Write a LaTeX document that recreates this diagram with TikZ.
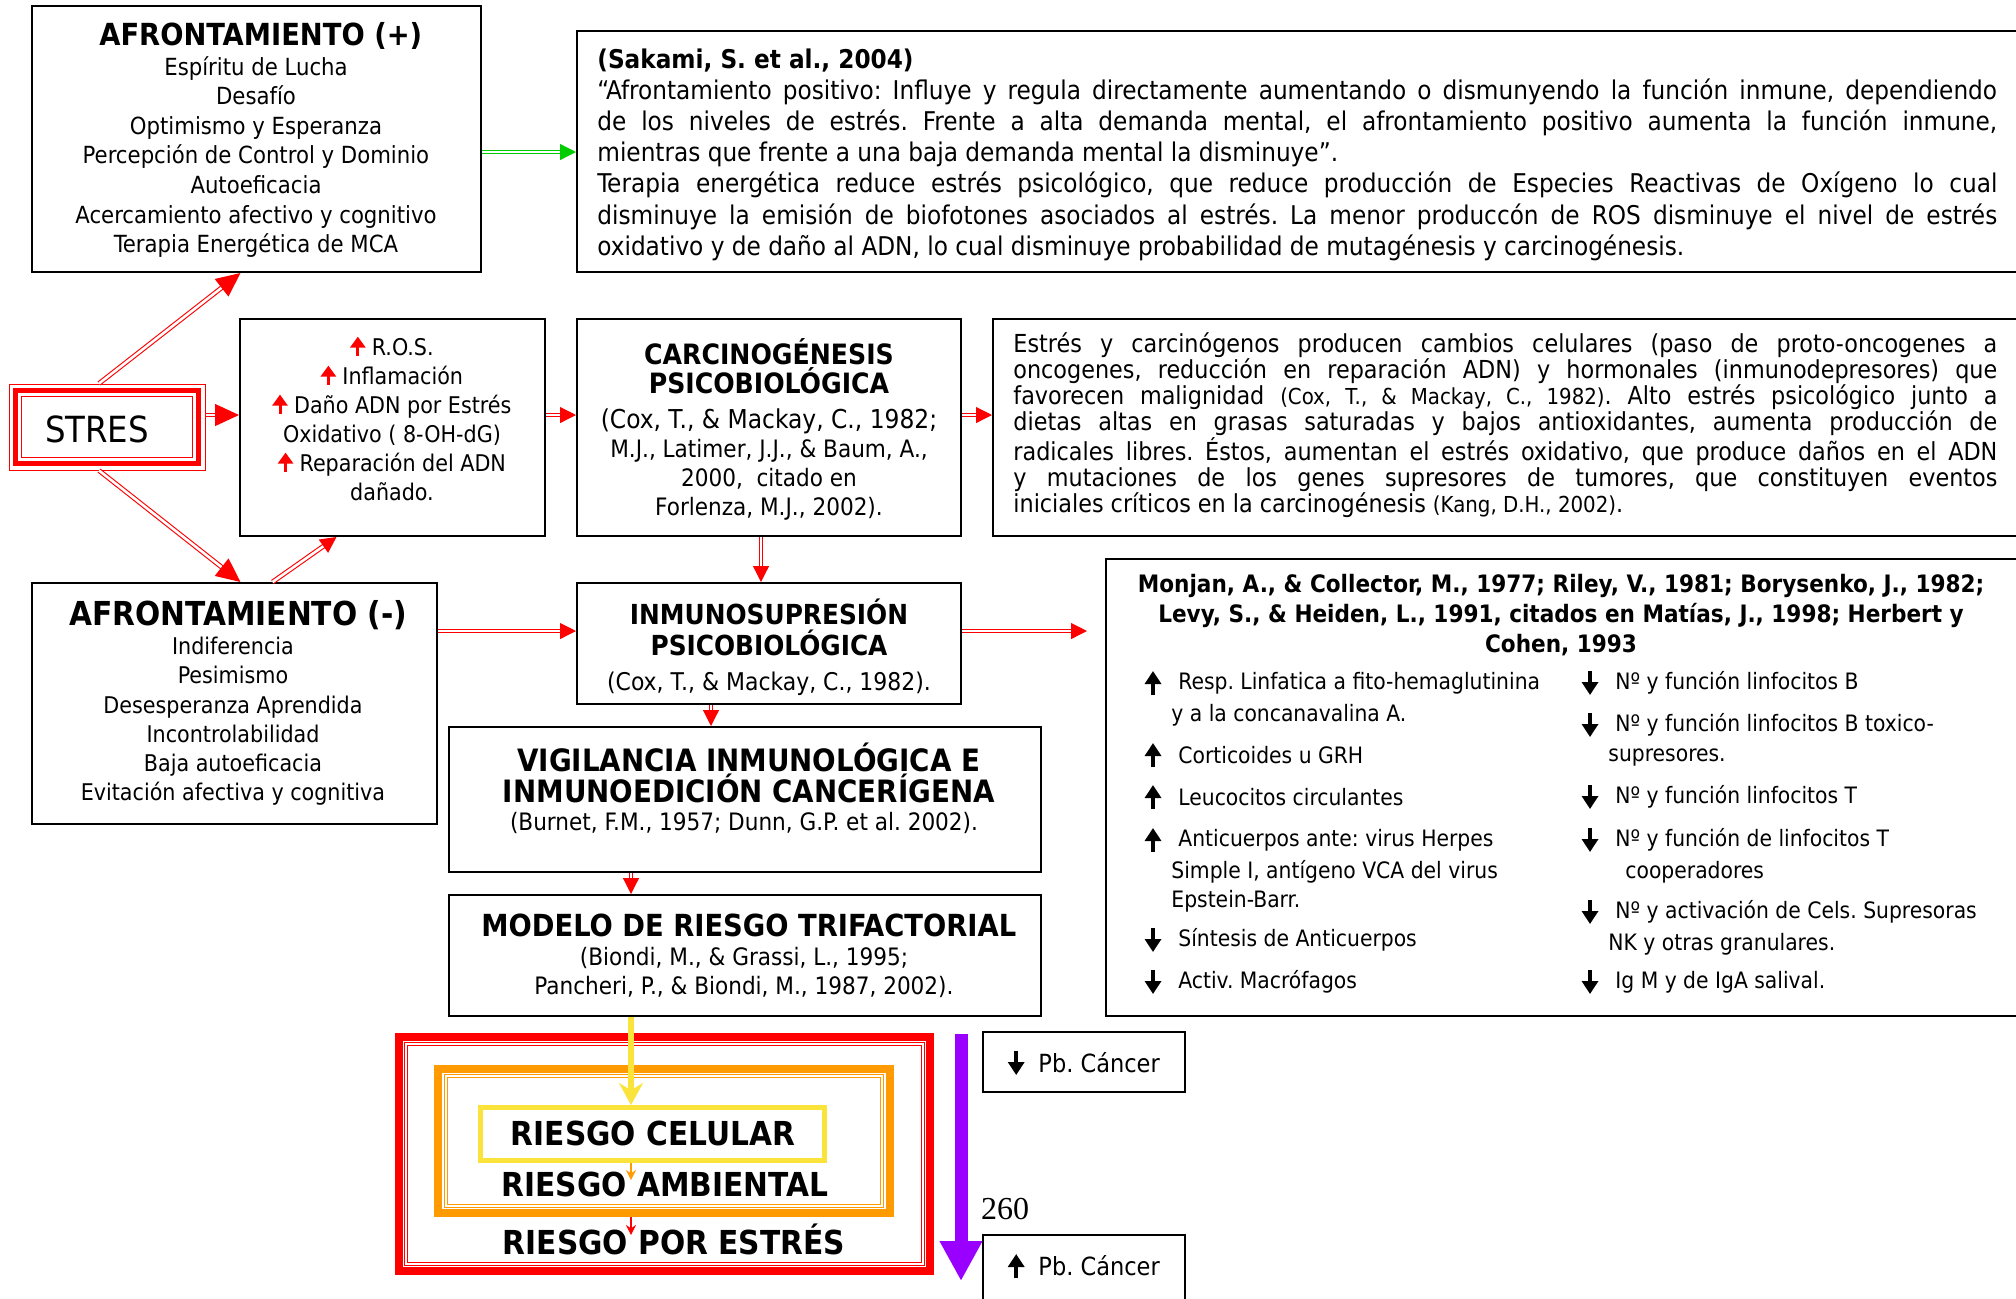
\documentclass[tikz,border=0pt]{standalone}
\usepackage{fontspec}
\setmainfont{DejaVuSansCondensed}[Extension=.ttf, BoldFont=DejaVuSansCondensed-Bold]
\newfontfamily\numfont{Liberation Serif}
\usetikzlibrary{arrows.meta,fit,positioning}
\definecolor{agreen}{HTML}{00CC00}
\definecolor{aorange}{HTML}{FF9A00}
\definecolor{ayellow}{HTML}{FAE43C}
\definecolor{apurple}{HTML}{9900FF}
\newcommand{\fs}[2]{\fontsize{#1}{#2}\selectfont}
\newcommand{\ttl}[1]{\fontsize{#1}{17}\selectfont\bfseries}
\newcommand{\upa}{\tikz[baseline=0pt,x=1pt,y=1pt]\draw[line width=1.9pt,-{Triangle[width=8pt,length=6.5pt]}] (0,-1.5)--(0,10.5);}
\newcommand{\dna}{\tikz[baseline=0pt,x=1pt,y=1pt]\draw[line width=1.9pt,-{Triangle[width=8pt,length=6.5pt]}] (0,10.5)--(0,-1.5);}
\newcommand{\upr}{\tikz[baseline=0pt,x=1pt,y=1pt]\draw[red,line width=1.5pt,-{Triangle[width=7.5pt,length=5.5pt]}] (0,0)--(0,9.5);}
\tikzset{rec/.style={rectangle,draw,line width=1pt,inner sep=0pt}}
\tikzset{txt/.style={inner sep=0pt,align=center}}
\tikzset{dbl/.style={draw=red,double=white,line width=0.55pt,double distance=1.3pt,-{Triangle[width=8pt,length=8pt]}}}
\tikzset{dblbig/.style={dbl,-{Triangle[width=11pt,length=12pt]}}}
\tikzset{yarr/.style={draw=ayellow,line width=3pt,-{Stealth[width=12pt,length=11pt]}}}
\tikzset{oarr/.style={draw=aorange,line width=1.2pt,-{Stealth[width=5pt,length=5pt]}}}
\tikzset{rarr/.style={draw=red,line width=1.2pt,-{Stealth[width=5pt,length=5pt]}}}
\tikzset{parr/.style={draw=apurple,line width=6.5pt,-{Triangle[width=20pt,length=20pt]}}}

\begin{document}
\frenchspacing
\begin{tikzpicture}[x=0.5pt,y=-0.5pt]
        \clip (0,0) rectangle (2016,1298);
        % boxes
        \node[rec, fit={(32,6) (481,272)}] (afpos) {};
        \node[rec, fit={(577,31) (2030,272)}] (sakami) {};
        \node[draw=red, line width=0.5pt, inner sep=0pt, fit={(9,384) (205,470)}] (stres) {};
        \draw[red, line width=2.5pt] ([shift={(7,7)}]stres.north west) rectangle ([shift={(-7,-7)}]stres.south east);
        \draw[red, line width=0.6pt] ([shift={(13,13)}]stres.north west) rectangle ([shift={(-13,-13)}]stres.south east);
        \node[rec, fit={(240,319) (545,536)}] (ros) {};
        \node[rec, fit={(577,319) (961,536)}] (carcino) {};
        \node[rec, fit={(993,319) (2030,536)}] (estres) {};
        \node[rec, fit={(32,583) (437,824)}] (afneg) {};
        \node[rec, fit={(577,583) (961,704)}] (inmuno) {};
        \node[rec, fit={(1106,559) (2030,1016)}] (monjan) {};
        \node[rec, fit={(449,727) (1041,872)}] (vigil) {};
        \node[rec, fit={(449,895) (1041,1016)}] (modelo) {};
        \node[rec, fit={(983,1032) (1185,1092)}] (pb1) {};
        \node[rec, fit={(983,1235) (1185,1320)}] (pb2) {};
        \node[draw=red, line width=4pt, inner sep=0pt, fit={(399,1037) (930,1271)}] (rRed) {};
        \draw[red, double=white, line width=0.5pt, double distance=1.2pt] ([shift={(11,11)}]rRed.north west) rectangle ([shift={(-11,-11)}]rRed.south east);
        \node[draw=aorange, line width=4pt, inner sep=0pt, fit={(438,1069) (890,1213)}] (rOrn) {};
        \draw[aorange, double=white, line width=0.5pt, double distance=1.2pt] ([shift={(12,11)}]rOrn.north west) rectangle ([shift={(-12,-11)}]rOrn.south east);
        \node[draw=ayellow, line width=2.5pt, inner sep=0pt, fit={(480.5,1107.5) (824.5,1160.5)}] (rYel) {};

        % texts
        \node[txt, font=\fs{11.8}{14.8}] (afposT) at (256,140) {\ttl{15.2} AFRONTAMIENTO (+)\\Espíritu de Lucha\\Desafío\\Optimismo y Esperanza\\Percepción de Control y Dominio\\Autoeficacia\\Acercamiento afectivo y cognitivo\\Terapia Energética de MCA};
        \node[anchor=north west, inner sep=0pt, text width=700pt, align=justify, font=\fs{12.9}{15.6}] (sakamiT) at (597,48) {{\bfseries (Sakami, S. et al., 2004)}\\
        “Afrontamiento positivo: Influye y regula directamente aumentando o dismunyendo la función inmune, dependiendo\linebreak de los niveles de estrés. Frente a alta demanda mental, el afrontamiento positivo aumenta la función inmune,\linebreak mientras que frente a una baja demanda mental la disminuye”.\\
        Terapia energética reduce estrés psicológico, que reduce producción de Especies Reactivas de Oxígeno lo cual\linebreak disminuye la emisión de biofotones asociados al estrés. La menor produccón de ROS disminuye el nivel de estrés\linebreak oxidativo y de daño al ADN, lo cual disminuye probabilidad de mutagénesis y carcinogénesis.};
        \node[txt, font=\fs{18}{20}] (stresT) at (97,429) {STRES};
        \node[txt, font=\fs{11.5}{14.5}] (rosT) at (392,418) {\upr\ R.O.S.\\\upr\ Inflamación\\\upr\ Daño ADN por Estrés\\Oxidativo ( 8-OH-dG)\\\upr\ Reparación del ADN\\dañado.};
        \node[txt, font=\fs{12}{14.5}] (carcinoT) at (769,429) {\fs{14}{16}\bfseries CARCINOGÉNESIS\\\fs{14}{16}\bfseries PSICOBIOLÓGICA\\[3pt]\fs{13}{14}(Cox, T., \& Mackay, C., 1982;\\M.J., Latimer, J.J., \& Baum, A.,\\2000,~ citado en\\Forlenza, M.J., 2002).};
        \node[anchor=north west, inner sep=0pt, text width=492pt, align=justify, font=\fs{12.4}{13}] (estresT) at (1013,332) {Estrés y carcinógenos producen cambios celulares (paso de proto-oncogenes a\linebreak oncogenes, reducción en reparación ADN) y hormonales (inmunodepresores) que\linebreak favorecen malignidad {\fs{11}{13}(Cox, T., \& Mackay, C., 1982)}. Alto estrés psicológico junto a\linebreak dietas altas en grasas saturadas y bajos antioxidantes, aumenta producción de\linebreak radicales libres. Éstos, aumentan el estrés oxidativo, que produce daños en el ADN\linebreak y mutaciones de los genes supresores de tumores, que constituyen eventos\linebreak iniciales críticos en la carcinogénesis {\fs{11}{13}(Kang, D.H., 2002)}.};
        \node[txt, font=\fs{11.5}{14.6}] (afnegT) at (233,703) {\ttl{16.5} AFRONTAMIENTO (-)\\Indiferencia\\Pesimismo\\Desesperanza Aprendida\\Incontrolabilidad\\Baja autoeficacia\\Evitación afectiva y cognitiva};
        \node[txt, font=\fs{12.2}{15.5}] (inmunoT) at (769,647) {\fs{13.8}{16}\bfseries INMUNOSUPRESIÓN\\\fs{13.8}{16}\bfseries PSICOBIOLÓGICA\\[2pt](Cox, T., \& Mackay, C., 1982).};
        \node[txt, font=\fs{12}{14}] (vigilT) at (744,788) {\ttl{15.4} VIGILANCIA INMUNOLÓGICA E\\\ttl{15.4} INMUNOEDICIÓN CANCERÍGENA\\(Burnet, F.M., 1957; Dunn, G.P. et al. 2002).};
        \node[txt, font=\fs{12}{14.5}] (modeloT) at (744,956) {\ttl{15.2} MODELO DE RIESGO TRIFACTORIAL\\(Biondi, M., \& Grassi, L., 1995;\\Pancheri, P., \& Biondi, M., 1987, 2002).};
        \node[txt, font=\fs{16.5}{18}\bfseries] (celT) at (653,1133) {RIESGO CELULAR};
        \node[txt, font=\fs{16.5}{18}\bfseries] (ambT) at (665,1184) {RIESGO AMBIENTAL};
        \node[txt, font=\fs{16.5}{18}\bfseries] (estT) at (674,1239) {RIESGO POR ESTRÉS};
        \node[txt, font=\fs{12.5}{15}] (pb1T) at (1084,1063) {\dna~~Pb. Cáncer};
        \node[txt, font=\fs{12.5}{15}] (pb2T) at (1084,1266) {\upa~~Pb. Cáncer};
        \node[txt, font=\numfont\fs{16}{18}] (pnum) at (1005,1209) {260};

        % Monjan box
        \node[txt, font=\fs{12}{14.8}\bfseries] (monjanT) at (1561,615) {Monjan, A., \& Collector, M., 1977; Riley, V., 1981; Borysenko, J., 1982;\\Levy, S., \& Heiden, L., 1991, citados en Matías, J., 1998; Herbert y\\Cohen, 1993};
        \foreach \y in {683,755,797,840} \node[txt] (mu\y) at (1153,\y) {\upa};
        \foreach \y in {940,982} \node[txt] (md\y) at (1153,\y) {\dna};
        \foreach \y in {683,725,797,840,912,982} \node[txt] (nd\y) at (1590,\y) {\dna};
        \tikzset{mtx/.style={anchor=west, inner sep=0pt, font=\fs{11.3}{13}}}
        \node[mtx] (l1) at (1178,683) {Resp. Linfatica a fito-hemaglutinina};
        \node[mtx] (l1b) at (1171,715) {y a la concanavalina A.};
        \node[mtx] (l2) at (1178,755) {Corticoides u GRH};
        \node[mtx] (l3) at (1178,797) {Leucocitos circulantes};
        \node[mtx] (l4) at (1178,840) {Anticuerpos ante: virus Herpes};
        \node[mtx] (l4b) at (1171,872) {Simple I, antígeno VCA del virus};
        \node[mtx] (l4c) at (1171,901) {Epstein-Barr.};
        \node[mtx] (l5) at (1178,940) {Síntesis de Anticuerpos};
        \node[mtx] (l6) at (1178,982) {Activ. Macrófagos};
        \node[mtx] (r1) at (1615,683) {Nº y función linfocitos B};
        \node[mtx] (r2) at (1615,725) {Nº y función linfocitos B toxico-};
        \node[mtx] (r2b) at (1608,757) {supresores.};
        \node[mtx] (r3) at (1615,797) {Nº y función linfocitos T};
        \node[mtx] (r4) at (1615,840) {Nº y función de linfocitos T};
        \node[mtx] (r4b) at (1625,872) {cooperadores};
        \node[mtx] (r5) at (1615,912) {Nº y activación de Cels. Supresoras};
        \node[mtx] (r5b) at (1608,944) {NK y otras granulares.};
        \node[mtx] (r6) at (1615,982) {Ig M y de IgA salival.};

        % connectors
        \coordinate (lvA) at (0,152);
        \coordinate (lvB) at (0,415);
        \coordinate (lvC) at (0,631);
        \coordinate (colC) at (761,0);
        \coordinate (colD) at (711,0);
        \coordinate (colE) at (631,0);
        \coordinate (pTop) at (961,1034);
        \coordinate (pBot) at (961,1281);
        \draw [dbl, draw=agreen] (afpos.east |- lvA) to (sakami.west |- lvA);
        \draw [dblbig] ([xshift=-4pt]stres.north) to ([xshift=-8pt]afpos.south);
        \draw [dblbig] (stres.east |- lvB) to (ros.west |- lvB);
        \draw [dblbig] ([xshift=-4pt]stres.south) to ([xshift=3pt]afneg.north);
        \draw [dbl] ([xshift=19pt]afneg.north) to ([xshift=-28pt]ros.south);
        \draw [dbl] (ros.east |- lvB) to (carcino.west |- lvB);
        \draw [dbl] (carcino.east |- lvB) to (estres.west |- lvB);
        \draw [dbl] (carcino.south -| colC) to (inmuno.north -| colC);
        \draw [dbl] (afneg.east |- lvC) to (inmuno.west |- lvC);
        \draw [dbl, shorten >=9pt] (inmuno.east |- lvC) to (monjan.west |- lvC);
        \draw [dbl] (inmuno.south -| colD) to (vigil.north -| colD);
        \draw [dbl] (vigil.south -| colE) to (modelo.north -| colE);
        \draw [yarr] (modelo.south -| colE) to (rYel.north -| colE);
        \draw [oarr, shorten >=2pt] (rYel.south -| colE) to (ambT.center -| colE);
        \draw [rarr, shorten >=2pt] (rOrn.south -| colE) to (estT.center -| colE);
        \draw [parr] (pTop) to (pBot);
\end{tikzpicture}
\end{document}
